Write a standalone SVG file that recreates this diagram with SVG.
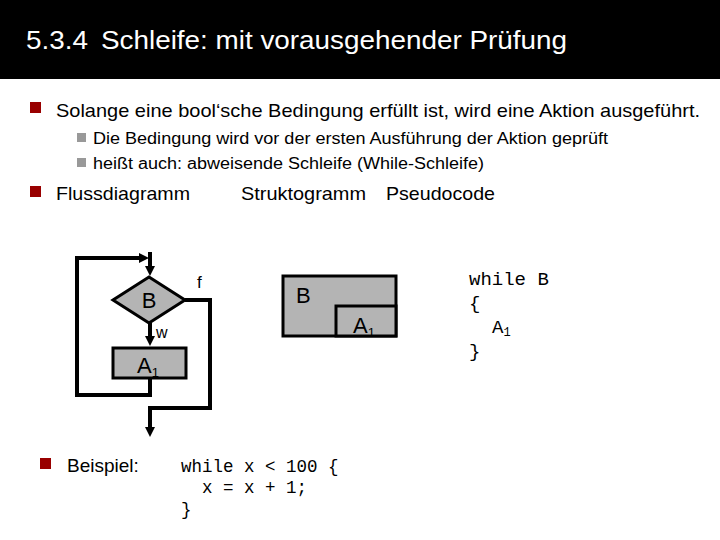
<svg xmlns="http://www.w3.org/2000/svg" width="720" height="540" viewBox="0 0 720 540">
<defs>
<style>
.t{font-family:"Liberation Sans",Arial,sans-serif;fill:#000}
.m{font-family:"Liberation Mono","Courier New",monospace;fill:#000}
.c{fill:none;stroke:#000;stroke-width:4}
.n{fill:#b4b4b4;stroke:#000;stroke-width:3}
.rb{fill:#990000}
.gb{fill:#999}
</style>
<marker id="ah" markerUnits="userSpaceOnUse" markerWidth="12" markerHeight="12" refX="2" refY="5" orient="auto"><path d="M0,0 L10,5 L0,10 z" fill="#000"/></marker>
</defs>
<rect width="720" height="540" fill="#fff"/>
<rect width="720" height="79" fill="#000"/>
<text x="26" y="49" font-family="Liberation Sans,Arial,sans-serif" font-size="26" fill="#fff" textLength="62" lengthAdjust="spacingAndGlyphs">5.3.4</text>
<text x="101" y="49" font-family="Liberation Sans,Arial,sans-serif" font-size="26" fill="#fff" textLength="466" lengthAdjust="spacingAndGlyphs">Schleife: mit vorausgehender Prüfung</text>

<rect class="rb" x="30" y="102" width="11" height="11"/>
<text class="t" x="56" y="117" font-size="19" textLength="644" lengthAdjust="spacingAndGlyphs">Solange eine bool‘sche Bedingung erfüllt ist, wird eine Aktion ausgeführt.</text>
<rect class="gb" x="77" y="133" width="9" height="9"/>
<text class="t" x="93" y="144" font-size="16" textLength="515" lengthAdjust="spacingAndGlyphs">Die Bedingung wird vor der ersten Ausführung der Aktion geprüft</text>
<rect class="gb" x="77" y="158" width="9" height="9"/>
<text class="t" x="93" y="169" font-size="16" textLength="391" lengthAdjust="spacingAndGlyphs">heißt auch: abweisende Schleife (While-Schleife)</text>
<rect class="rb" x="30" y="186" width="11" height="11"/>
<text class="t" x="56" y="200" font-size="19" textLength="134" lengthAdjust="spacingAndGlyphs">Flussdiagramm</text>
<text class="t" x="241" y="200" font-size="19" textLength="125" lengthAdjust="spacingAndGlyphs">Struktogramm</text>
<text class="t" x="386" y="200" font-size="19" textLength="109" lengthAdjust="spacingAndGlyphs">Pseudocode</text>

<g id="connectors">
<path class="c" d="M150 252 V268" marker-end="url(#ah)"/>
<path class="c" d="M150 323 V338" marker-end="url(#ah)"/>
<path class="c" d="M150 378 V395 H77 V258 H141" marker-end="url(#ah)"/>
<path class="c" d="M185 300 H210 V408 H150 V429" marker-end="url(#ah)"/>
</g>
<g id="node-B">
<polygon class="n" points="149,277 185,300 149,323 113,300"/>
<text class="t" x="149" y="308" font-size="22" text-anchor="middle">B</text>
</g>
<g id="node-A1">
<rect class="n" x="113" y="348" width="73" height="30"/>
<text class="t" x="137" y="373" font-size="22">A<tspan font-size="13" dy="4">1</tspan></text>
</g>
<text class="t" x="197" y="288" font-size="17">f</text>
<text class="t" x="156" y="338" font-size="16">w</text>

<g id="struktogramm">
<rect class="n" x="283" y="276" width="113" height="60"/>
<rect class="n" x="336" y="306" width="60" height="30"/>
<text class="t" x="296" y="303" font-size="22">B</text>
<text class="t" x="353" y="333" font-size="22">A<tspan font-size="13" dy="4">1</tspan></text>
</g>

<g id="pseudocode">
<text class="m" x="469" y="285" font-size="19">while B</text>
<text class="m" x="469" y="309" font-size="19">{</text>
<text class="m" x="492" y="333" font-size="19">A<tspan font-size="12" dy="3">1</tspan></text>
<text class="m" x="469" y="357" font-size="19">}</text>
</g>

<rect class="rb" x="40" y="458" width="11" height="11"/>
<text class="t" x="67" y="472" font-size="19">Beispiel:</text>
<text class="m" x="181" y="472" font-size="17.5">while x &lt; 100 {</text>
<text class="m" x="202" y="493" font-size="17.5">x = x + 1;</text>
<text class="m" x="181" y="515" font-size="17.5">}</text>
</svg>
